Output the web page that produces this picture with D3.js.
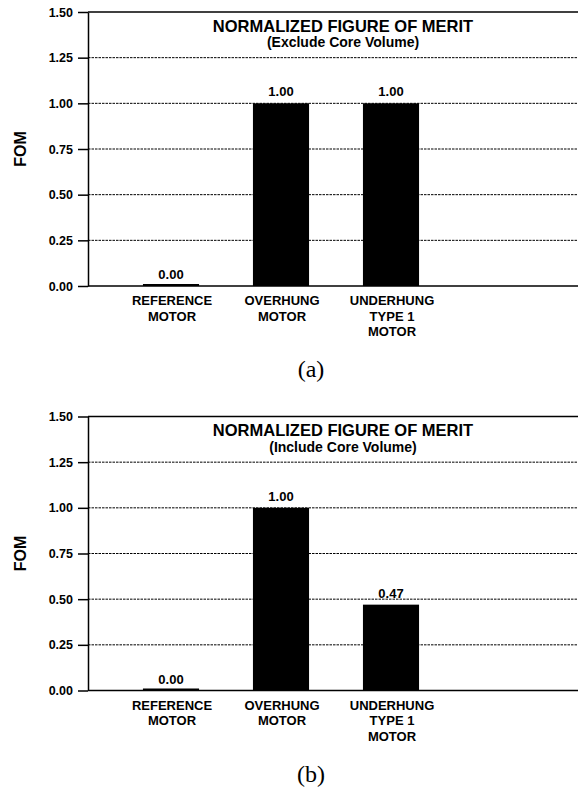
<!DOCTYPE html>
<html>
<head>
<meta charset="utf-8">
<script src="https://cdn.jsdelivr.net/npm/d3@7"></script>
<style>
  body { margin: 0; background: #fff; }
  text { font-family: "Liberation Sans", Arial, sans-serif; font-weight: bold; fill: #000; }
  .caption { font-family: "Liberation Serif", "Times New Roman", serif; font-weight: normal; }
</style>
</head>
<body>
<svg width="578" height="790"></svg>
<script>
var categories = [["REFERENCE", "MOTOR"], ["OVERHUNG", "MOTOR"], ["UNDERHUNG", "TYPE 1", "MOTOR"]];
var fomExclude = [0.00, 1.00, 1.00];
var fomInclude = [0.00, 1.00, 0.47];
var yTicks = [0, 0.25, 0.5, 0.75, 1.0, 1.25, 1.5];
var titles = ["NORMALIZED FIGURE OF MERIT", "NORMALIZED FIGURE OF MERIT"];
var subtitles = ["(Exclude Core Volume)", "(Include Core Volume)"];
var captions = ["(a)", "(b)"];

var svg = d3.select("svg"),
    margin = {left: 88, right: 0},
    width = +svg.attr("width") - margin.left - margin.right,
    height = 274,
    tops = [12, 416.5],
    minBar = 2; // zero-valued bars still show as a thin line

var x = d3.scaleBand()
    .domain(d3.range(categories.length))
    .range([28, 358])
    .paddingInner(0.49)
    .paddingOuter(0.245);

var y = d3.scaleLinear().domain([0, 1.5]).range([height, 0]);

function drawPanel(i, values) {
    var g = svg.append("g").attr("transform", "translate(" + margin.left + "," + tops[i] + ")");

    // grid lines
    g.selectAll(".grid")
        .data(yTicks.filter(function(d) { return d > 0 && d < 1.5; }))
        .enter().append("line")
        .attr("x1", 0).attr("x2", width)
        .attr("y1", function(d) { return y(d); })
        .attr("y2", function(d) { return y(d); })
        .attr("stroke", "#000")
        .attr("stroke-width", 1)
        .attr("stroke-dasharray", "2.5,1");

    // top border
    g.append("line")
        .attr("x1", 0).attr("x2", width)
        .attr("y1", y(1.5)).attr("y2", y(1.5))
        .attr("stroke", "#000").attr("stroke-width", 1.5);

    // bars
    g.selectAll(".bar")
        .data(values)
        .enter().append("rect")
        .attr("x", function(d, j) { return x(j); })
        .attr("width", x.bandwidth())
        .attr("y", function(d) { return Math.min(y(d), height - minBar); })
        .attr("height", function(d) { return Math.max(height - y(d), minBar); })
        .attr("fill", "#000");

    g.selectAll(".val")
        .data(values)
        .enter().append("text")
        .attr("x", function(d, j) { return x(j) + x.bandwidth() / 2; })
        .attr("y", function(d) { return y(d) - 7; })
        .attr("text-anchor", "middle")
        .style("font-size", "13px")
        .text(function(d) { return d3.format(".2f")(d); });

    // bottom axis line
    g.append("line")
        .attr("x1", 0).attr("x2", width)
        .attr("y1", height).attr("y2", height)
        .attr("stroke", "#000").attr("stroke-width", 1.5);

    // left axis
    var ax = g.append("g")
        .call(d3.axisLeft(y).tickValues(yTicks).tickFormat(d3.format(".2f")).tickSize(10).tickSizeOuter(0).tickPadding(5));
    ax.select(".domain").attr("stroke-width", 1.5);
    ax.selectAll(".tick line").attr("stroke-width", 1.5);
    ax.selectAll(".tick text")
        .style("font-family", "'Liberation Sans', Arial, sans-serif")
        .style("font-weight", "bold")
        .style("font-size", "12.5px");

    // category labels
    var cat = g.selectAll(".cat")
        .data(categories)
        .enter().append("text")
        .attr("text-anchor", "middle")
        .style("font-size", "13px")
        .attr("transform", function(d, j) { return "translate(" + (x(j) + x.bandwidth() / 2 + 1) + "," + (height + 19) + ")"; });
    cat.selectAll("tspan")
        .data(function(d) { return d; })
        .enter().append("tspan")
        .attr("x", 0)
        .attr("dy", function(d, k) { return k === 0 ? 0 : 15.5; })
        .text(function(d) { return d; });

    // y label
    g.append("text")
        .attr("transform", "translate(" + (26 - margin.left) + "," + (height / 2) + ") rotate(-90)")
        .attr("text-anchor", "middle")
        .style("font-size", "16px")
        .text("FOM");

    // titles
    g.append("text")
        .attr("x", 255).attr("y", 19.5)
        .attr("text-anchor", "middle")
        .style("font-size", "16.5px")
        .text(titles[i]);
    g.append("text")
        .attr("x", 255).attr("y", 35)
        .attr("text-anchor", "middle")
        .style("font-size", "14px")
        .text(subtitles[i]);

    // caption
    g.append("text")
        .attr("class", "caption")
        .attr("x", 311 - margin.left).attr("y", 365)
        .attr("text-anchor", "middle")
        .style("font-size", "24px")
        .text(captions[i]);
}

drawPanel(0, fomExclude);
drawPanel(1, fomInclude);
</script>
</body>
</html>
